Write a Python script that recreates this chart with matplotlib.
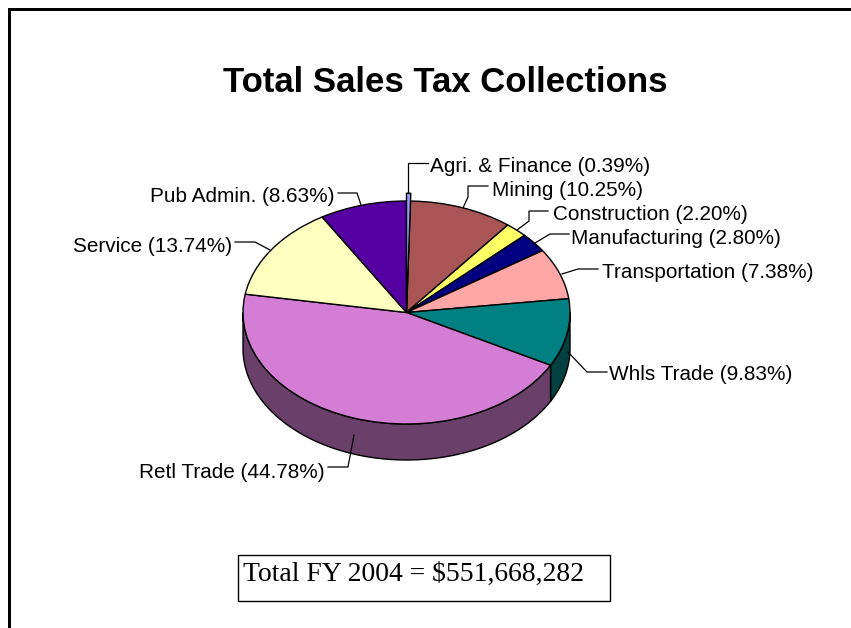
import numpy as np
import matplotlib
matplotlib.use("Agg")
import matplotlib.pyplot as plt
from matplotlib.patches import Rectangle

W, H = 851, 628

# ---------------------------------------------
# Data
# ---------------------------------------------
categories = ["Agri. & Finance", "Mining", "Construction", "Manufacturing", "Transportation",
              "Whls Trade", "Retl Trade", "Service", "Pub Admin."]
shares = [0.39, 10.25, 2.20, 2.80, 7.38, 9.83, 44.78, 13.74, 8.63]
top_colors = ["#9999FF", "#AA5555", "#FFFF66", "#000080", "#FFA6A6",
              "#008080", "#D47DD4", "#FFFFC0", "#5500A0"]
side_colors = ["#4C4C80", "#552B2B", "#808033", "#000040", "#805353",
               "#004040", "#6A3F6A", "#808060", "#2B0050"]

# pie geometry in pixels
CX, CY = 406.5, 312.5
RX, RY = 163.5, 111.5
DEPTH = 36

# (text x, text y, ha, leader pixels)
label_layout = {
    "Agri. & Finance": (430, 166, "left", [(428, 163), (408, 163), (408, 193)]),
    "Mining": (492, 191, "left", [(488, 186), (468, 186), (468, 197), (463, 208)]),
    "Construction": (553, 214, "left", [(548, 211), (529, 211), (529, 221), (517, 230)]),
    "Manufacturing": (571, 238, "left", [(569, 234), (550, 234), (535, 243)]),
    "Transportation": (602, 273, "left", [(598, 269), (578, 269), (562, 274)]),
    "Whls Trade": (609, 375, "left", [(607, 372), (587, 372), (568, 352)]),
    "Retl Trade": (325, 472, "right", [(328, 467), (348, 467), (354, 435)]),
    "Service": (232, 246, "right", [(235, 242), (255, 242), (270, 250)]),
    "Pub Admin.": (334, 196, "right", [(338, 193), (357, 193), (361, 205)]),
}


def ellipse_xy(clock_deg):
    a = np.radians(clock_deg)
    return np.sin(a), np.cos(a)


fig = plt.figure(figsize=(W / 100, H / 100), dpi=100, facecolor="white")

# overlay in pixel coordinates for frame, title and labels
ax = fig.add_axes([0, 0, 1, 1])
ax.set_xlim(0, W)
ax.set_ylim(H, 0)
ax.axis("off")
ax.set_zorder(2)

# pie axes: one data unit is RX by RY pixels
pie_ax = fig.add_axes([(CX - RX) / W, 1 - (CY + RY + DEPTH) / H, 2 * RX / W, (2 * RY + DEPTH) / H])
wedges, _ = pie_ax.pie(shares, colors=top_colors, startangle=90, counterclock=False,
                       wedgeprops={"edgecolor": "black", "linewidth": 1.0})
pie_ax.set_aspect("auto")
pie_ax.set_xlim(-1, 1)
pie_ax.set_ylim(-1 - DEPTH / RY, 1)
pie_ax.patch.set_alpha(0)
for w in wedges:
    w.set_clip_on(False)

# Agri sliver sticks up past the rim
wedges[0].set_radius(1.07)
wedges[0].set_zorder(5)

# side wall, front half only
d = DEPTH / RY
edges = np.cumsum([0] + shares) * 3.6
for i, cat in enumerate(categories):
    lo, hi = max(edges[i], 90), min(edges[i + 1], 270)
    if hi <= lo:
        continue
    t = np.linspace(lo, hi, 80)
    x, y = ellipse_xy(t)
    px = np.r_[x, x[::-1]]
    py = np.r_[y, y[::-1] - d]
    pie_ax.fill(px, py, facecolor=side_colors[i], edgecolor="black", linewidth=1.0, zorder=0.5, clip_on=False)

# frame
ax.plot([9, 9], [H, 9], color="black", lw=2.16, solid_capstyle="projecting")
ax.plot([9, W], [9, 9], color="black", lw=2.16, solid_capstyle="projecting")

ax.text(445.5, 83, "Total Sales Tax Collections", fontsize=25, fontweight="bold",
        family="Liberation Sans", ha="center", va="center")

share_by_cat = dict(zip(categories, shares))
for cat in categories:
    tx, ty, ha, pts = label_layout[cat]
    ax.text(tx, ty, f"{cat} ({share_by_cat[cat]:.2f}%)", fontsize=14.95, family="Liberation Sans",
            ha=ha, va="center", color="black")
    ax.plot(*zip(*pts), color="black", lw=0.9, solid_joinstyle="miter", zorder=6)

# note box
ax.add_patch(Rectangle((238, 554.5), 372, 46.5, facecolor="white", edgecolor="black", lw=1.0))
ax.text(243, 574, "Total FY 2004 = $551,668,282", fontsize=19.9, family="Liberation Serif",
        ha="left", va="center", color="black")

fig.savefig("out.png", dpi=100, facecolor="white")
